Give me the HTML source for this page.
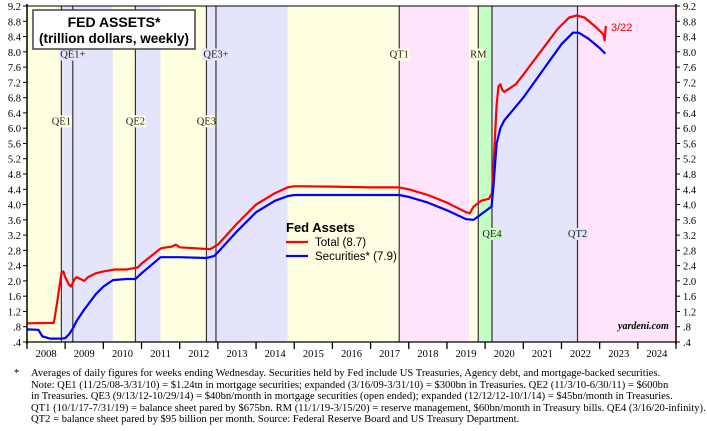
<!DOCTYPE html>
<html><head><meta charset="utf-8"><style>
body{margin:0;background:#fff;width:707px;height:431px;overflow:hidden;font-family:"Liberation Serif",serif}
.foot{position:absolute;left:14px;top:368px;font-size:10.6px;line-height:11.6px;color:#000;width:700px}
.foot div{white-space:nowrap}
</style></head><body>
<svg id="chart" width="707" height="368" font-family="Liberation Serif, serif" style="position:absolute;left:0;top:0"></svg>
<div class="foot">
<div style="position:absolute;left:0;top:0">*</div>
<div style="padding-left:17px">Averages of daily figures for weeks ending Wednesday. Securities held by Fed include US Treasuries, Agency debt, and mortgage-backed securities.</div>
<div style="padding-left:17px">Note: QE1 (11/25/08-3/31/10) = $1.24tn in mortgage securities; expanded (3/16/09-3/31/10) = $300bn in Treasuries. QE2 (11/3/10-6/30/11) = $600bn</div>
<div style="padding-left:17px">in Treasuries. QE3 (9/13/12-10/29/14) = $40bn/month in mortgage securities (open ended); expanded (12/12/12-10/1/14) = $45bn/month in Treasuries.</div>
<div style="padding-left:17px">QT1 (10/1/17-7/31/19) = balance sheet pared by $675bn. RM (11/1/19-3/15/20) = reserve management, $60bn/month in Treasury bills. QE4 (3/16/20-infinity).</div>
<div style="padding-left:17px">QT2 = balance sheet pared by $95 billion per month. Source: Federal Reserve Board and US Treasury Department.</div>
</div>
<script>
const totalT=[2008.0,2008.7,2008.72,2008.8,2008.9,2008.95,2009.0,2009.1,2009.15,2009.25,2009.3,2009.4,2009.5,2009.6,2009.8,2010.0,2010.3,2010.6,2010.9,2011.0,2011.5,2011.6,2011.8,2011.9,2012.0,2012.5,2012.8,2013.0,2013.5,2014.0,2014.5,2014.83,2015.0,2016.0,2017.0,2017.75,2018.0,2018.5,2019.0,2019.5,2019.6,2019.7,2019.9,2020.1,2020.18,2020.22,2020.3,2020.35,2020.4,2020.45,2020.5,2020.8,2021.0,2021.3,2021.6,2021.9,2022.2,2022.4,2022.6,2022.9,2023.1,2023.13,2023.16];
const totalV=[0.89,0.9,1.0,1.5,2.2,2.25,2.1,1.9,1.85,2.05,2.1,2.05,2.0,2.1,2.2,2.25,2.3,2.3,2.35,2.45,2.85,2.87,2.9,2.95,2.88,2.85,2.83,2.95,3.5,4.0,4.3,4.45,4.48,4.47,4.45,4.45,4.4,4.25,4.05,3.8,3.77,3.95,4.1,4.15,4.3,5.0,6.6,7.1,7.15,7.0,6.95,7.15,7.4,7.8,8.2,8.6,8.9,8.95,8.9,8.65,8.45,8.3,8.68];
const secT=[2008.0,2008.3,2008.4,2008.6,2008.9,2009.0,2009.1,2009.2,2009.3,2009.5,2009.8,2010.0,2010.25,2010.6,2010.84,2011.0,2011.5,2012.0,2012.7,2012.9,2013.0,2013.5,2014.0,2014.5,2014.83,2015.0,2017.75,2018.0,2018.5,2019.0,2019.5,2019.7,2019.9,2020.17,2020.22,2020.3,2020.4,2020.5,2021.0,2021.5,2022.0,2022.3,2022.45,2022.7,2023.0,2023.15];
const secV=[0.73,0.72,0.55,0.49,0.49,0.5,0.6,0.75,0.95,1.25,1.65,1.85,2.02,2.05,2.05,2.2,2.62,2.62,2.6,2.65,2.75,3.3,3.8,4.1,4.22,4.25,4.25,4.2,4.05,3.85,3.62,3.6,3.75,3.95,4.5,5.6,6.0,6.2,6.8,7.5,8.2,8.5,8.5,8.35,8.1,7.95];
const bandStart=[2008.0,2008.9,2010.25,2010.84,2011.5,2012.7,2014.83,2017.75,2019.58,2019.82,2020.18,2022.42];
const bandEnd=[2008.9,2010.25,2010.84,2011.5,2012.7,2014.83,2017.75,2019.58,2019.82,2020.18,2022.42,2025.0];
const bandKind=["y","b","y","b","y","b","y","p","y","g","b","p"];
const evtName=["QE1","QE1+","QE2","QE3","QE3+","QT1","RM","QE4","QT2"];
const evtT=[2008.9,2009.2,2010.84,2012.7,2012.95,2017.75,2019.82,2020.18,2022.42];
const evtLabelV=[6.1,7.85,6.1,6.1,7.85,7.85,7.85,3.15,3.15];
const yTicks=[0.4,0.8,1.2,1.6,2.0,2.4,2.8,3.2,3.6,4.0,4.4,4.8,5.2,5.6,6.0,6.4,6.8,7.2,7.6,8.0,8.4,8.8,9.2];
const years=[2008,2009,2010,2011,2012,2013,2014,2015,2016,2017,2018,2019,2020,2021,2022,2023,2024];

const L=27,R=676,T=6,B=342;
const x=t=>L+(t-2008)/(2025-2008)*(R-L);
const y=v=>B-(v-0.4)/(9.2-0.4)*(B-T);
const svg=document.getElementById('chart');
const NS='http://www.w3.org/2000/svg';
function mk(tag,attrs,parent){const e=document.createElementNS(NS,tag);for(const k in attrs)e.setAttribute(k,attrs[k]);(parent||svg).appendChild(e);return e;}
const col={y:"#ffffe2",b:"#e4e4fb",p:"#ffe4fb",g:"#c4fcc4"};
for(let i=0;i<bandStart.length;i++){
 const r=mk('rect',{x:x(bandStart[i]),y:T,width:x(bandEnd[i])-x(bandStart[i]),height:B-T,fill:col[bandKind[i]]});
 
 
}
function bandColorAt(t){for(let i=0;i<bandStart.length;i++)if(t>=bandStart[i]&&t<bandEnd[i])return col[bandKind[i]];return '#fff';}
for(let i=0;i<evtT.length;i++){
 const xx=x(evtT[i]);
 const l=mk('line',{x1:xx,x2:xx,y1:T,y2:B,stroke:'#333','stroke-width':1.2});
 
 
 const ly=y(evtLabelV[i]);
 const w=evtName[i].length*6.3+2;
 mk('rect',{x:xx-w/2,y:ly-9,width:w,height:12,fill:bandColorAt(evtT[i]-0.001)});
 const tx=mk('text',{x:xx,y:ly,'text-anchor':'middle','font-size':10.5,fill:'#222'});
 tx.textContent=evtName[i];
 
 
}
function path(ts,vs,c,name){
 let d='';for(let i=0;i<ts.length;i++)d+=(i?'L':'M')+x(ts[i]).toFixed(1)+','+y(vs[i]).toFixed(1);
 const p=mk('path',{d:d,fill:'none',stroke:c,'stroke-width':2.2,'stroke-linejoin':'round'});
 
 
}
path(totalT,totalV,'#ff0000','total-line');
path(secT,secV,'#0000ff','securities-line');
mk('rect',{x:L,y:T,width:R-L,height:B-T,fill:'none',stroke:'#000','stroke-width':1});
mk('line',{x1:L,x2:L,y1:T-2,y2:B+2,stroke:'#000','stroke-width':1.5});
mk('line',{x1:R,x2:R,y1:T-2,y2:B+2,stroke:'#000','stroke-width':1.5});
mk('line',{x1:L,x2:R,y1:B,y2:B,stroke:'#000','stroke-width':1.2});
for(const v of yTicks){
 const yy=y(v);
 mk('line',{x1:L-4,x2:L,y1:yy,y2:yy,stroke:'#000'});
 mk('line',{x1:R,x2:R+4,y1:yy,y2:yy,stroke:'#000'});
 const lab=v<1?('.'+Math.round(v*10)):v.toFixed(1);
 const a=mk('text',{x:L-6,y:yy+4,'text-anchor':'end','font-size':10.5});a.textContent=lab;
 
 
 const b=mk('text',{x:R+7,y:yy+4,'font-size':10.5});b.textContent=lab;
 
 
}
for(let i=0;i<=years.length;i++){
 const xx=x(2008+i);
 mk('line',{x1:xx,x2:xx,y1:B,y2:B+7,stroke:'#000','stroke-width':1.3});
 if(i<years.length){const t=mk('text',{x:x(years[i]+0.5),y:B+15,'text-anchor':'middle','font-size':10.5});t.textContent=years[i];
 
 }
}
mk('rect',{x:33,y:10,width:162,height:39,fill:'#fff',stroke:'#444','stroke-width':1.5});
const t1=mk('text',{x:114,y:27,'text-anchor':'middle','font-size':14,'font-weight':'bold','font-family':'Liberation Sans, sans-serif'});t1.textContent='FED ASSETS*';


const t2=mk('text',{x:114,y:43,'text-anchor':'middle','font-size':13.5,'font-weight':'bold','font-family':'Liberation Sans, sans-serif'});t2.textContent='(trillion dollars, weekly)';


const lg=mk('text',{x:286,y:232,'font-size':13,'font-weight':'bold','font-family':'Liberation Sans, sans-serif'});lg.textContent='Fed Assets';


mk('line',{x1:286,x2:308,y1:242,y2:242,stroke:'#f00','stroke-width':2.2});
const l1=mk('text',{x:315,y:246,'font-size':11.5,'font-family':'Liberation Sans, sans-serif'});l1.textContent='Total (8.7)';


mk('line',{x1:286,x2:308,y1:256,y2:256,stroke:'#00f','stroke-width':2.2});
const l2=mk('text',{x:315,y:260,'font-size':11.5,'font-family':'Liberation Sans, sans-serif'});l2.textContent='Securities* (7.9)';


const e=mk('text',{x:611,y:31,'font-size':11,fill:'#f00','font-family':'Liberation Sans, sans-serif'});e.textContent='3/22';


const yd=mk('text',{x:618,y:329,'font-size':10,'font-style':'italic','font-weight':'bold'});yd.textContent='yardeni.com';


</script>
</body></html>
